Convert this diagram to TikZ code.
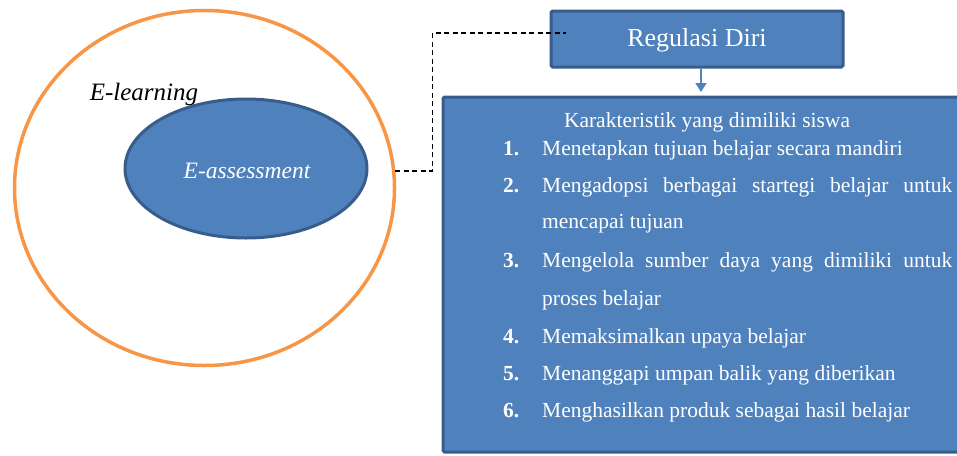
\documentclass[tikz,border=0pt]{standalone}
\usepackage{fontspec}
\setmainfont{Liberation Serif}
\usetikzlibrary{arrows.meta,shapes.geometric}
\definecolor{oblue}{HTML}{4F81BD}
\definecolor{dblue}{HTML}{385D8A}
\definecolor{orng}{HTML}{F79646}
\begin{document}
\begin{tikzpicture}[x=1pt,y=-1pt,
  txt/.style={text=white, font=\fontsize{21.5}{26}\selectfont, inner sep=0pt, anchor=base west},
  num/.style={txt, font=\fontsize{21.5}{26}\selectfont\bfseries},
  bluebox/.style={draw=dblue, line width=3pt, fill=oblue, rectangle, rounded corners=1.5pt, inner sep=0pt},
  dashline/.style={line width=1.8pt, dash pattern=on 5pt off 3.5pt}
]
\useasboundingbox (0,0) rectangle (957,455);
% outer ellipse
\node[draw=orng, line width=3.5pt, ellipse, minimum width=380pt, minimum height=355pt, inner sep=0pt] (outer) at (204.5,188) {};
\node[font=\fontsize{25}{28}\selectfont\itshape, inner sep=0pt, anchor=base] (elearn) at (144,100) {E-learning};
\node[draw=dblue, line width=3pt, fill=oblue, ellipse, minimum width=242pt, minimum height=139pt, inner sep=0pt] (inner) at (246,168.5) {};
\node[text=white, font=\fontsize{23.5}{26}\selectfont\itshape, inner sep=0pt] (eassess) at (247,171) {E-assessment};
% boxes
\node[bluebox, minimum width=292pt, minimum height=56pt] (reg) at (697,39) {};
\node[text=white, font=\fontsize{26}{30}\selectfont, inner sep=0pt] (regt) at (697,40) {Regulasi Diri};
\node[bluebox, minimum width=532pt, minimum height=355pt] (big) at (709,274.5) {};
% connectors
\coordinate (dk) at (566,33);
\draw[dashline] (outer.5) -- ++(37,0) |- (dk);
\coordinate (ah) at (701,92);
\draw[oblue, line width=1.8pt, -{Triangle[width=11pt,length=9pt]}] (reg.south -| ah) -- (ah);
% text
\node[txt, anchor=base] (head) at (707,127) {Karakteristik yang dimiliki siswa};
\node[num] (n1) at (503,155) {1.};
\node[txt] (t1) at (542,155) {Menetapkan tujuan belajar secara mandiri};
\node[num] (n2) at (503,192) {2.};
\node[txt] (t2a) at (542,192) {\makebox[410pt][s]{Mengadopsi berbagai startegi belajar untuk}};
\node[txt] (t2b) at (542,228) {mencapai tujuan};
\node[num] (n3) at (503,267) {3.};
\node[txt] (t3a) at (542,267) {\makebox[410pt][s]{Mengelola sumber daya yang dimiliki untuk}};
\node[txt] (t3b) at (542,305) {proses belajar};
\node[num] (n4) at (503,343) {4.};
\node[txt] (t4) at (542,343) {Memaksimalkan upaya belajar};
\node[num] (n5) at (503,380) {5.};
\node[txt] (t5) at (542,380) {Menanggapi umpan balik yang diberikan};
\node[num] (n6) at (503,417) {6.};
\node[txt] (t6) at (542,417) {Menghasilkan produk sebagai hasil belajar};
\end{tikzpicture}
\end{document}
